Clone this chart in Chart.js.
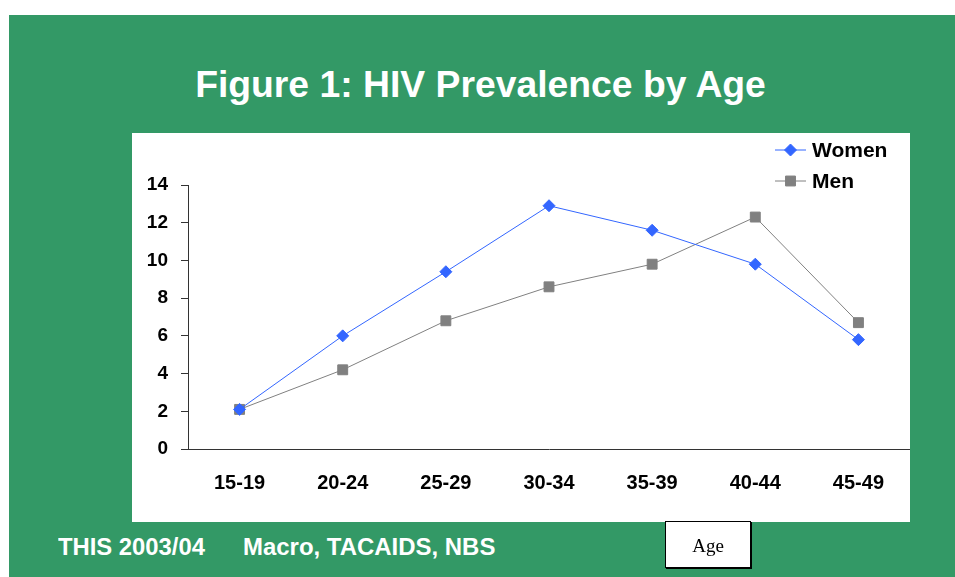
<!DOCTYPE html>
<html><head><meta charset="utf-8">
<script src="https://cdn.jsdelivr.net/npm/chart.js@4"></script>
<style>
html,body{margin:0;padding:0;background:#fff;}
body{width:955px;height:577px;position:relative;overflow:hidden;font-family:'Liberation Sans',Arial,sans-serif;}
#bg{position:absolute;left:9px;top:15px;right:0;bottom:0;background:#339966;}
#title{position:absolute;left:0;width:961px;top:63px;text-align:center;color:#fff;font-weight:bold;font-size:37.3px;white-space:nowrap;}
#box{position:absolute;left:132px;top:133px;width:778px;height:389px;background:#fff;}
.foot{position:absolute;color:#fff;font-weight:bold;font-size:23px;top:534px;transform-origin:0 50%;white-space:nowrap;}
#age{position:absolute;left:665px;top:521px;width:84px;height:45px;background:#fff;border:1px solid #000;box-shadow:1px 1px 0 #000;font-family:'Liberation Serif','Times New Roman',serif;font-size:19px;text-align:center;line-height:47px;color:#000;}
</style>
</head><body>
<div id="bg"></div>
<div id="title">Figure 1: HIV Prevalence by Age</div>
<div id="box"><canvas id="c" width="778" height="389"></canvas></div>
<div class="foot" id="f1" style="left:58px">THIS 2003/04</div>
<div class="foot" id="f2" style="left:243px">Macro, TACAIDS, NBS</div>
<div id="age">Age</div>
<script>
const categories = ['15-19', '20-24', '25-29', '30-34', '35-39', '40-44', '45-49'];
const women = [2.1, 6.0, 9.4, 12.9, 11.6, 9.8, 5.8];
const men = [2.1, 4.2, 6.8, 8.6, 9.8, 12.3, 6.7];
const seriesNames = ['Women', 'Men'];
const yMin = 0, yMax = 14, yStep = 2;

// fit footer texts to their widths in the reference
[['f1', 147], ['f2', 252]].forEach(([id, w]) => {
  const el = document.getElementById(id);
  el.style.transform = 'scaleX(' + (w / el.offsetWidth) + ')';
});

const FONT = "'Liberation Sans', Arial, sans-serif";

const legendPlugin = {
  id: 'manualLegend',
  afterDraw(chart) {
    const ctx = chart.ctx;
    chart.data.datasets.forEach((ds, i) => {
      const y = 17 + i * 31;
      const x0 = 643, x1 = 674;
      ctx.save();
      ctx.strokeStyle = ds.borderColor;
      ctx.lineWidth = ds.borderWidth;
      ctx.beginPath(); ctx.moveTo(x0, y); ctx.lineTo(x1, y); ctx.stroke();
      ctx.fillStyle = ds.pointBackgroundColor;
      ctx.strokeStyle = ds.pointBorderColor;
      Chart.helpers.drawPoint(ctx, {pointStyle: ds.pointStyle, radius: ds.pointRadius, rotation: 0, borderWidth: 1}, (x0 + x1) / 2, y);
      ctx.fillStyle = '#000';
      ctx.font = 'bold 21px ' + FONT;
      ctx.textBaseline = 'middle';
      ctx.textAlign = 'left';
      ctx.fillText(ds.label, 680, y + 1);
      ctx.restore();
    });
  }
};

new Chart(document.getElementById('c'), {
  type: 'line',
  data: {
    labels: categories,
    datasets: [
      {label: seriesNames[0], data: women, borderColor: '#3366FF', backgroundColor: '#3366FF', borderWidth: 1,
       pointStyle: 'rectRot', pointRadius: 6, pointBackgroundColor: '#3366FF', pointBorderColor: '#3366FF', pointBorderWidth: 1, tension: 0},
      {label: seriesNames[1], data: men, borderColor: '#808080', backgroundColor: '#808080', borderWidth: 1,
       pointStyle: 'rect', pointRadius: 7, pointBackgroundColor: '#808080', pointBorderColor: '#808080', pointBorderWidth: 1, tension: 0}
    ]
  },
  options: {
    responsive: false,
    animation: false,
    devicePixelRatio: 1,
    layout: {autoPadding: false, padding: {top: 52, right: 0, left: 0, bottom: 0}},
    plugins: {legend: {display: false}, tooltip: {enabled: false}, title: {display: false}},
    scales: {
      x: {
        offset: true,
        grid: {display: true, drawOnChartArea: false, drawTicks: true, tickLength: 22, color: 'rgba(0,0,0,0)'},
        border: {display: true, color: '#333', width: 1},
        ticks: {color: '#000', font: {family: FONT, weight: 'bold', size: 20}, padding: 0, maxRotation: 0, autoSkip: false},
        afterFit(scale) { scale.height = 73; }
      },
      y: {
        min: yMin, max: yMax,
        grid: {drawOnChartArea: false, drawTicks: true, tickLength: 7, color: '#333'},
        border: {display: true, color: '#333', width: 1},
        ticks: {stepSize: yStep, color: '#000', font: {family: FONT, weight: 'bold', size: 19}, padding: 13},
        afterFit(scale) { scale.width = 56; }
      }
    }
  },
  plugins: [legendPlugin]
});
</script>
</body></html>
